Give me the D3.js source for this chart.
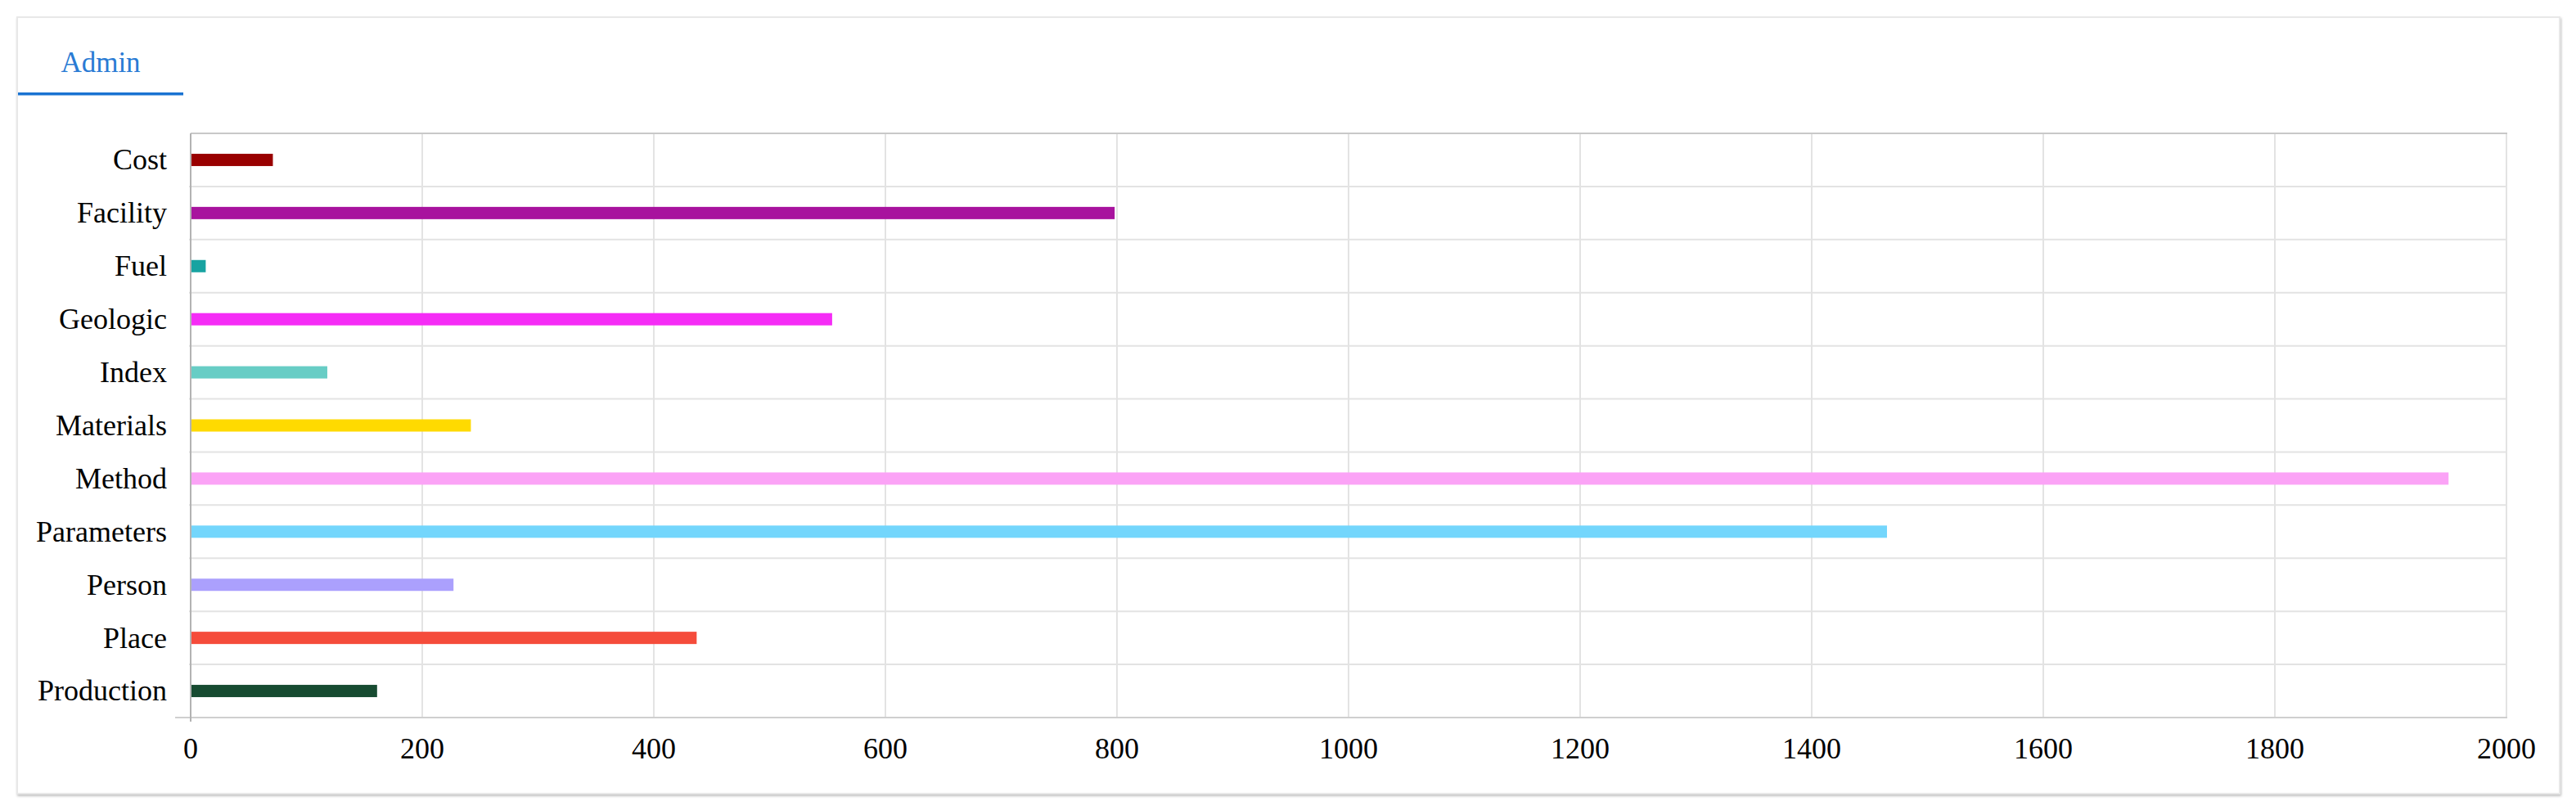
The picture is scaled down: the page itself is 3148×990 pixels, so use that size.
<!DOCTYPE html>
<html>
<head>
<meta charset="utf-8">
<script src="https://cdn.jsdelivr.net/npm/d3@7"></script>
<style>
  html, body { margin: 0; padding: 0; background: #fff; }
  svg { display: block; font-family: "Liberation Serif", "Times New Roman", serif; }
</style>
</head>
<body>
<div id="chart"></div>
<script>
const categories = ["Cost", "Facility", "Fuel", "Geologic", "Index", "Materials",
  "Method", "Parameters", "Person", "Place", "Production"];
const values = [71, 798, 13, 554, 118, 242, 1950, 1465, 227, 437, 161];
const barColors = ["#990000", "#a8139e", "#17a3a1", "#f52cf6", "#67cdc5", "#ffda00",
  "#fba3f6", "#73d6fc", "#aba0fd", "#f54c3b", "#174b31"];
const xTicks = [0, 200, 400, 600, 800, 1000, 1200, 1400, 1600, 1800, 2000];
const tabLabel = "Admin";

(function () {
  const W = 3148, H = 990;
  const plot = { left: 233, right: 3063, top: 163, bottom: 877 };

  const svg = d3.select("#chart").append("svg")
    .attr("width", W)
    .attr("height", H);

  const defs = svg.append("defs");
  const f = defs.append("filter").attr("id", "shadow")
    .attr("x", "-1%").attr("y", "-2%").attr("width", "102%").attr("height", "105%");
  f.append("feDropShadow")
    .attr("dx", 1).attr("dy", 2).attr("stdDeviation", 1.5)
    .attr("flood-color", "#000").attr("flood-opacity", 0.25);

  // card
  svg.append("rect")
    .attr("x", 21).attr("y", 21)
    .attr("width", 3107).attr("height", 949)
    .attr("fill", "#fff")
    .attr("stroke", "#e8e8e8")
    .attr("stroke-width", 2)
    .attr("filter", "url(#shadow)");

  // tab
  svg.append("text")
    .attr("x", 123).attr("y", 88)
    .attr("text-anchor", "middle")
    .style("font-size", "35px")
    .attr("fill", "#2a7bd4")
    .text(tabLabel);

  svg.append("rect")
    .attr("x", 22).attr("y", 113)
    .attr("width", 202).attr("height", 3.5)
    .attr("fill", "#1a73d2");

  const x = d3.scaleLinear()
    .domain([0, 2000])
    .range([plot.left, plot.right]);

  const y = d3.scaleBand()
    .domain(categories)
    .range([plot.top, plot.bottom])
    .padding(0);

  // vertical grid
  svg.append("g")
    .selectAll("line")
    .data(xTicks.slice(1))
    .join("line")
    .attr("x1", d => x(d)).attr("x2", d => x(d))
    .attr("y1", plot.top).attr("y2", plot.bottom)
    .attr("stroke", "#e3e3e3")
    .attr("stroke-width", 2);

  // horizontal grid at band boundaries
  svg.append("g")
    .selectAll("line")
    .data(categories.slice(1))
    .join("line")
    .attr("x1", plot.left - 2).attr("x2", plot.right)
    .attr("y1", d => y(d)).attr("y2", d => y(d))
    .attr("stroke", "#e3e3e3")
    .attr("stroke-width", 2);

  // top border
  svg.append("line")
    .attr("x1", plot.left).attr("x2", plot.right + 1)
    .attr("y1", plot.top).attr("y2", plot.top)
    .attr("stroke", "#c8c8c8").attr("stroke-width", 2);

  // bottom axis line
  svg.append("line")
    .attr("x1", 214).attr("x2", plot.right + 1)
    .attr("y1", plot.bottom).attr("y2", plot.bottom)
    .attr("stroke", "#cfcfcf").attr("stroke-width", 2);

  // bars
  const barH = 15;
  svg.append("g")
    .selectAll("rect")
    .data(categories)
    .join("rect")
    .attr("x", x(0))
    .attr("y", d => y(d) + y.bandwidth() / 2 - barH / 2)
    .attr("width", (d, i) => x(values[i]) - x(0))
    .attr("height", barH)
    .attr("fill", (d, i) => barColors[i]);

  // left axis line
  svg.append("line")
    .attr("x1", plot.left).attr("x2", plot.left)
    .attr("y1", plot.top).attr("y2", plot.bottom + 5)
    .attr("stroke", "#b3b3b3").attr("stroke-width", 2);

  // y labels
  svg.append("g")
    .selectAll("text")
    .data(categories)
    .join("text")
    .attr("x", 204)
    .attr("y", d => y(d) + y.bandwidth() / 2)
    .attr("dy", "0.33em")
    .attr("text-anchor", "end")
    .style("font-size", "36px")
    .attr("fill", "#000")
    .text(d => d);

  // x labels
  svg.append("g")
    .selectAll("text")
    .data(xTicks)
    .join("text")
    .attr("x", d => x(d))
    .attr("y", 927)
    .attr("text-anchor", "middle")
    .style("font-size", "36px")
    .attr("fill", "#000")
    .text(d => d);
})();
</script>
</body>
</html>
